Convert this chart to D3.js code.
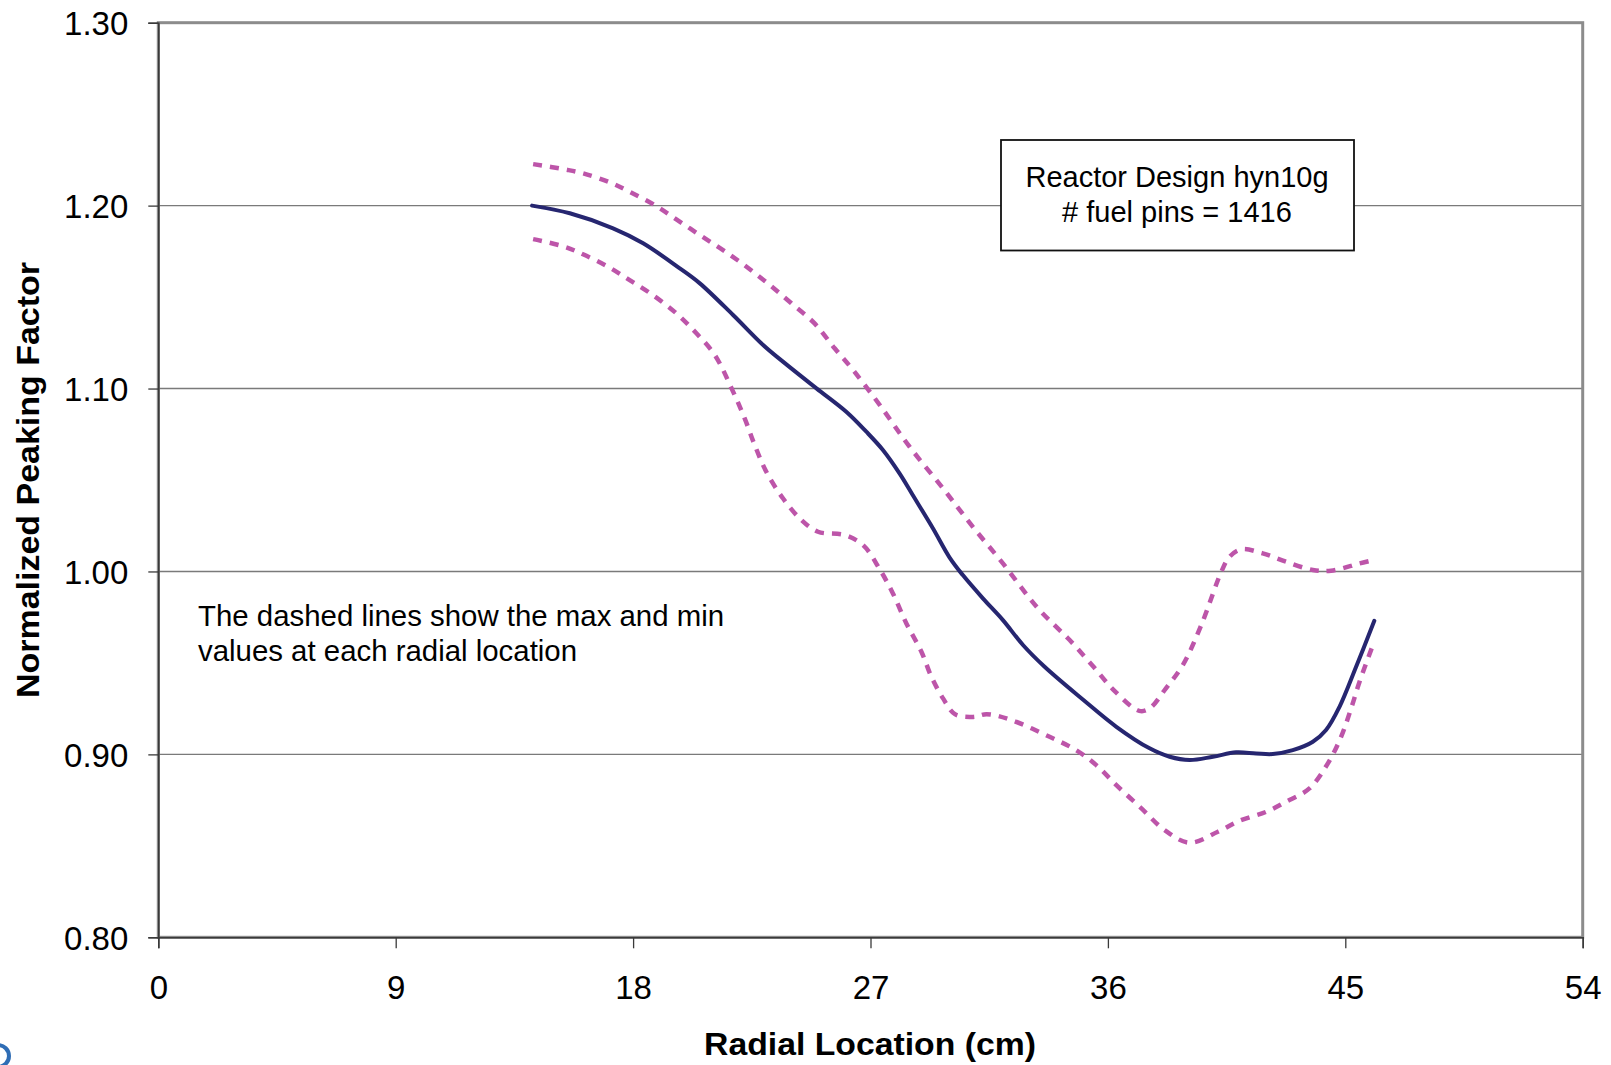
<!DOCTYPE html>
<html>
<head>
<meta charset="utf-8">
<script src="https://cdn.jsdelivr.net/npm/d3@7"></script>
<style>
  html, body { margin: 0; padding: 0; background: #fff; }
  svg { display: block; font-family: "Liberation Sans", Arial, sans-serif; }
</style>
</head>
<body>
<svg id="chart" width="1611" height="1065"></svg>
<script>
// ---- data ----
const xTicks = [0, 9, 18, 27, 36, 45, 54];
const yTicks = [0.80, 0.90, 1.00, 1.10, 1.20, 1.30];
const yGrid = [0.90, 1.00, 1.10, 1.20];

const meanX = [14.17, 15.6, 17.24, 18.38, 19.77, 20.53, 21.79, 22.93, 23.68, 24.95, 26.08, 26.84, 27.47, 28.1, 28.6, 29.37, 30.0, 30.5, 31.26, 32.02, 32.78, 33.6, 35.05, 36.32, 37.58, 38.34, 39.1, 39.98, 40.86, 41.62, 42.25, 43.01, 43.77, 44.27, 44.78, 45.41, 46.1];
const meanY = [1.200, 1.1958, 1.1876, 1.1794, 1.1657, 1.1575, 1.1402, 1.1238, 1.1147, 1.1001, 1.0873, 1.0764, 1.0664, 1.0536, 1.0418, 1.0235, 1.0076, 0.998, 0.9853, 0.9734, 0.9598, 0.9479, 0.9300, 0.9151, 0.9033, 0.8987, 0.8969, 0.8987, 0.9011, 0.9005, 0.9002, 0.9023, 0.9069, 0.9133, 0.926, 0.9479, 0.973];

const maxX = [14.21, 15.41, 16.1, 17.12, 17.87, 18.82, 19.64, 20.53, 21.41, 22.3, 23.18, 24.0, 24.88, 25.64, 26.34, 27.35, 28.48, 29.8, 30.88, 32.02, 33.35, 34.55, 35.43, 36.25, 37.19, 37.58, 38.2, 38.84, 39.54, 40.3, 40.61, 41.06, 41.87, 42.76, 43.77, 44.46, 45.54, 46.0];
const maxY = [1.2227, 1.2198, 1.2177, 1.2127, 1.2076, 1.2003, 1.1925, 1.1839, 1.1757, 1.1666, 1.1566, 1.1466, 1.1356, 1.122, 1.1101, 1.091, 1.0682, 1.0445, 1.0244, 1.0044, 0.9798, 0.9625, 0.9483, 0.9347, 0.9238, 0.9251, 0.9361, 0.9488, 0.9707, 0.9998, 1.008, 1.0121, 1.0099, 1.0053, 1.0008, 1.0004, 1.0044, 1.006];

const minX = [14.21, 15.41, 16.1, 17.05, 17.87, 18.75, 19.64, 20.4, 21.1, 21.79, 22.23, 22.61, 23.05, 23.68, 24.38, 25.01, 26.02, 26.72, 27.35, 27.85, 28.36, 28.93, 29.31, 29.75, 30.2, 30.9, 31.4, 32.35, 33.79, 34.8, 35.56, 36.32, 37.27, 38.15, 39.1, 40.17, 40.99, 42.0, 42.76, 43.64, 44.34, 44.84, 45.22, 45.54, 46.0];
const minY = [1.1817, 1.1775, 1.1734, 1.1666, 1.1593, 1.1511, 1.1411, 1.1302, 1.1183, 1.0983, 1.0837, 1.0691, 1.0545, 1.04, 1.0281, 1.0217, 1.0199, 1.0144, 1.0012, 0.988, 0.9716, 0.9561, 0.9424, 0.9306, 0.922, 0.9205, 0.922, 0.9187, 0.9096, 0.9023, 0.8941, 0.8832, 0.8705, 0.8586, 0.8517, 0.8577, 0.8637, 0.8686, 0.8741, 0.8814, 0.8951, 0.9096, 0.9251, 0.9397, 0.958];

const xTitle = "Radial Location (cm)";
const yTitle = "Normalized Peaking Factor";
const boxLines = ["Reactor Design hyn10g", "# fuel pins = 1416"];
const noteLines = ["The dashed lines show the max and min", "values at each radial location"];

// ---- drawing ----
const svg = d3.select("#chart");
const L = 158.3, R = 1582.7, T = 22.7, B = 937.3;
const x = d3.scaleLinear().domain([0, 54]).range([L, R]);
const y = d3.scaleLinear().domain([0.80, 1.30]).range([B, T]);

// gridlines
svg.append("g").selectAll("line").data(yGrid).join("line")
  .attr("x1", L).attr("x2", R)
  .attr("y1", d => y(d)).attr("y2", d => y(d))
  .attr("stroke", "#7a7a7a").attr("stroke-width", 1.4);

// plot border
svg.append("rect")
  .attr("x", L).attr("y", T).attr("width", R - L).attr("height", B - T)
  .attr("fill", "none").attr("stroke", "#8c8c8c").attr("stroke-width", 3);

// axes
const fmt = d3.format(".2f");
const yAxis = d3.axisLeft(y).tickValues(yTicks).tickFormat(fmt).tickSize(10).tickPadding(20);
const gy = svg.append("g").attr("transform", `translate(${L},0)`).call(yAxis);
const xAxis = d3.axisBottom(x).tickValues(xTicks).tickFormat(d3.format("d")).tickSize(11).tickPadding(27);
const gx = svg.append("g").attr("transform", `translate(0,${B})`).call(xAxis);
[gx, gy].forEach(g => {
  g.attr("font-family", null).attr("font-size", null);
  g.select(".domain").attr("stroke", "#3a3a3a").attr("stroke-width", 1.6);
  g.selectAll(".tick line").attr("stroke", "#3a3a3a").attr("stroke-width", 1.3);
  g.selectAll(".tick text").attr("fill", "#000")
    .attr("font-family", '"Liberation Sans", Arial, sans-serif').attr("font-size", 33);
});
gy.selectAll(".tick text").attr("dy", "0.36em");
gx.selectAll(".tick text").attr("dy", "0.71em");

// series
const line = d3.line().x(d => x(d[0])).y(d => y(d[1])).curve(d3.curveCatmullRom.alpha(0.5));
const maxPts = maxX.map((v, i) => [v, maxY[i]]);
const minPts = minX.map((v, i) => [v, minY[i]]);
const meanPts = meanX.map((v, i) => [v, meanY[i]]);

[maxPts, minPts].forEach(pts => {
  svg.append("path").datum(pts).attr("d", line)
    .attr("fill", "none").attr("stroke", "#BD55A9").attr("stroke-width", 4.5)
    .attr("stroke-dasharray", "9,8");
});
svg.append("path").datum(meanPts).attr("d", line)
  .attr("fill", "none").attr("stroke", "#262670").attr("stroke-width", 4)
  .attr("stroke-linecap", "round").attr("stroke-linejoin", "round");

// text box
svg.append("rect").attr("x", 1001).attr("y", 140).attr("width", 353).attr("height", 110.5)
  .attr("fill", "#fff").attr("stroke", "#111").attr("stroke-width", 1.8);
svg.append("g").selectAll("text").data(boxLines).join("text")
  .attr("x", 1177).attr("y", (d, i) => 186.5 + i * 35.5)
  .attr("text-anchor", "middle").attr("font-size", 29).attr("fill", "#000")
  .text(d => d);

// annotation
svg.append("g").selectAll("text").data(noteLines).join("text")
  .attr("x", 198).attr("y", (d, i) => 626 + i * 35)
  .attr("font-size", 29.4).attr("fill", "#000")
  .text(d => d);

// axis titles
svg.append("text").attr("x", 870).attr("y", 1055)
  .attr("text-anchor", "middle").attr("font-size", 32).attr("font-weight", "bold")
  .attr("textLength", 332).attr("lengthAdjust", "spacingAndGlyphs")
  .text(xTitle);
svg.append("text").attr("transform", "translate(39,480) rotate(-90)")
  .attr("text-anchor", "middle").attr("font-size", 31).attr("font-weight", "bold")
  .attr("textLength", 436).attr("lengthAdjust", "spacingAndGlyphs")
  .text(yTitle);

// fragment of logo at bottom-left corner
svg.append("path").attr("d", "M -2 1045 A 11 11 0 0 1 -2 1067")
  .attr("fill", "none").attr("stroke", "#2f6db5").attr("stroke-width", 4);
</script>
</body>
</html>
